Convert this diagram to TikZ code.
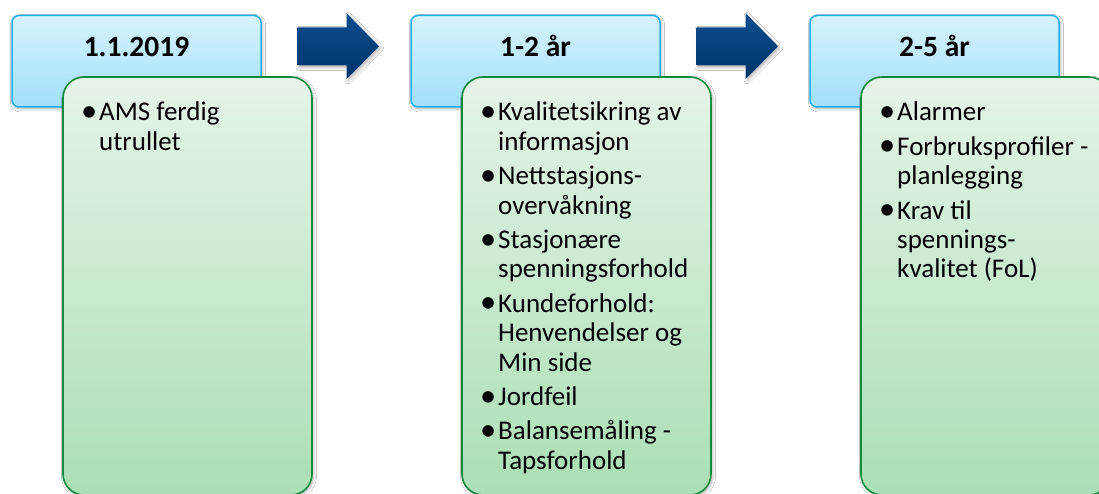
\documentclass[tikz,border=0pt]{standalone}
\usepackage{fontspec}
\usepackage{graphicx}
\setmainfont{Carlito}
\usetikzlibrary{shadows.blur}
\definecolor{bluetop}{HTML}{D6F3FE}
\definecolor{bluebot}{HTML}{A0DFFA}
\definecolor{blueedge}{HTML}{1EAEEE}
\definecolor{greentop}{HTML}{E6F4E8}
\definecolor{greenbot}{HTML}{AADFB5}
\definecolor{greenedge}{HTML}{118A3D}
\definecolor{arrowtop}{HTML}{0C4E8E}
\definecolor{arrowbot}{HTML}{00346B}
\newcommand\bodyfont{\fontsize{27}{29.4}\selectfont\spaceskip=0pt\xspaceskip=0pt\parindent=0pt}
\newcommand\bulmark{\llap{\raisebox{-0.5pt}{\scalebox{1.2}{•}}\kern2pt}}
\newcommand\bul{\par\noindent\bulmark}
\newcommand\nl{\hfil\break}
\tikzset{
  softshadow/.style={blur shadow={shadow xshift=1.5pt, shadow yshift=-2pt, shadow blur radius=3pt, shadow blur steps=6, shadow opacity=30}},
  headbox/.style={draw=blueedge, line width=1.5pt, rounded corners=7pt,
    top color=bluetop, bottom color=bluebot, softshadow,
    minimum width=249pt, minimum height=91.5pt, inner sep=0pt},
  bodybox/.style={draw=greenedge, line width=1.6pt, rounded corners=21pt,
    top color=greentop, bottom color=greenbot, softshadow,
    minimum width=249pt, minimum height=418pt, inner sep=0pt},
  headtext/.style={font=\fontsize{29.5}{33}\selectfont\bfseries, anchor=base, inner sep=0pt},
  bodytext/.style={anchor=base west, inner sep=0pt, text width=260pt},
  arrowshape/.style={top color=arrowtop, bottom color=arrowbot, softshadow}
}
\begin{document}
\begin{tikzpicture}[x=1pt,y=-1pt]
\useasboundingbox (0,0) rectangle (1099,494);
\clip (0,0) rectangle (1099,494);
\fill[white] (0,0) rectangle (1099,494);
% column 1
\node[headbox] (h1) at (136.5,61.25) {};
\node[bodybox] (b1) at (187.5,286) {};
\node[headtext] (l1) at (136.5,56.7) {1.1.2019};
\node[bodytext] (t1) at (99,121) {\bodyfont\bulmark AMS ferdig\nl utrullet\par};
% arrow 1
\path[arrowshape] (297.5,27.3) -- (346.7,27.3) -- (346.7,13.3) -- (379,46.3)
  -- (346.7,79) -- (346.7,65.3) -- (297.5,65.3) -- cycle;
% column 2
\node[headbox] (h2) at (535.5,61.25) {};
\node[bodybox] (b2) at (586.5,286) {};
\node[headtext] (l2) at (535.5,56.7) {1-2 år};
\node[bodytext] (t2) at (498,121) {\bodyfont\bulmark Kvalitetsikring av\nl informasjon%
\setlength\parskip{5pt}
\bul Nettstasjons-\nl overvåkning
\bul Stasjonære\nl spenningsforhold
\bul Kundeforhold:\nl Henvendelser og\nl Min side
\bul Jordfeil
\bul Balansemåling -\nl Tapsforhold\par};
% arrow 2
\path[arrowshape] (696.5,27.3) -- (745.7,27.3) -- (745.7,13.3) -- (778,46.3)
  -- (745.7,79) -- (745.7,65.3) -- (696.5,65.3) -- cycle;
% column 3
\node[headbox] (h3) at (934.5,61.25) {};
\node[bodybox] (b3) at (985.5,286) {};
\node[headtext] (l3) at (934.5,56.7) {2-5 år};
\node[bodytext] (t3) at (897,121) {\bodyfont\bulmark Alarmer%
\setlength\parskip{5pt}
\bul Forbruksprofiler -\nl planlegging
\bul Krav til\nl spennings-\nl kvalitet (FoL)\par};
\end{tikzpicture}
\end{document}
